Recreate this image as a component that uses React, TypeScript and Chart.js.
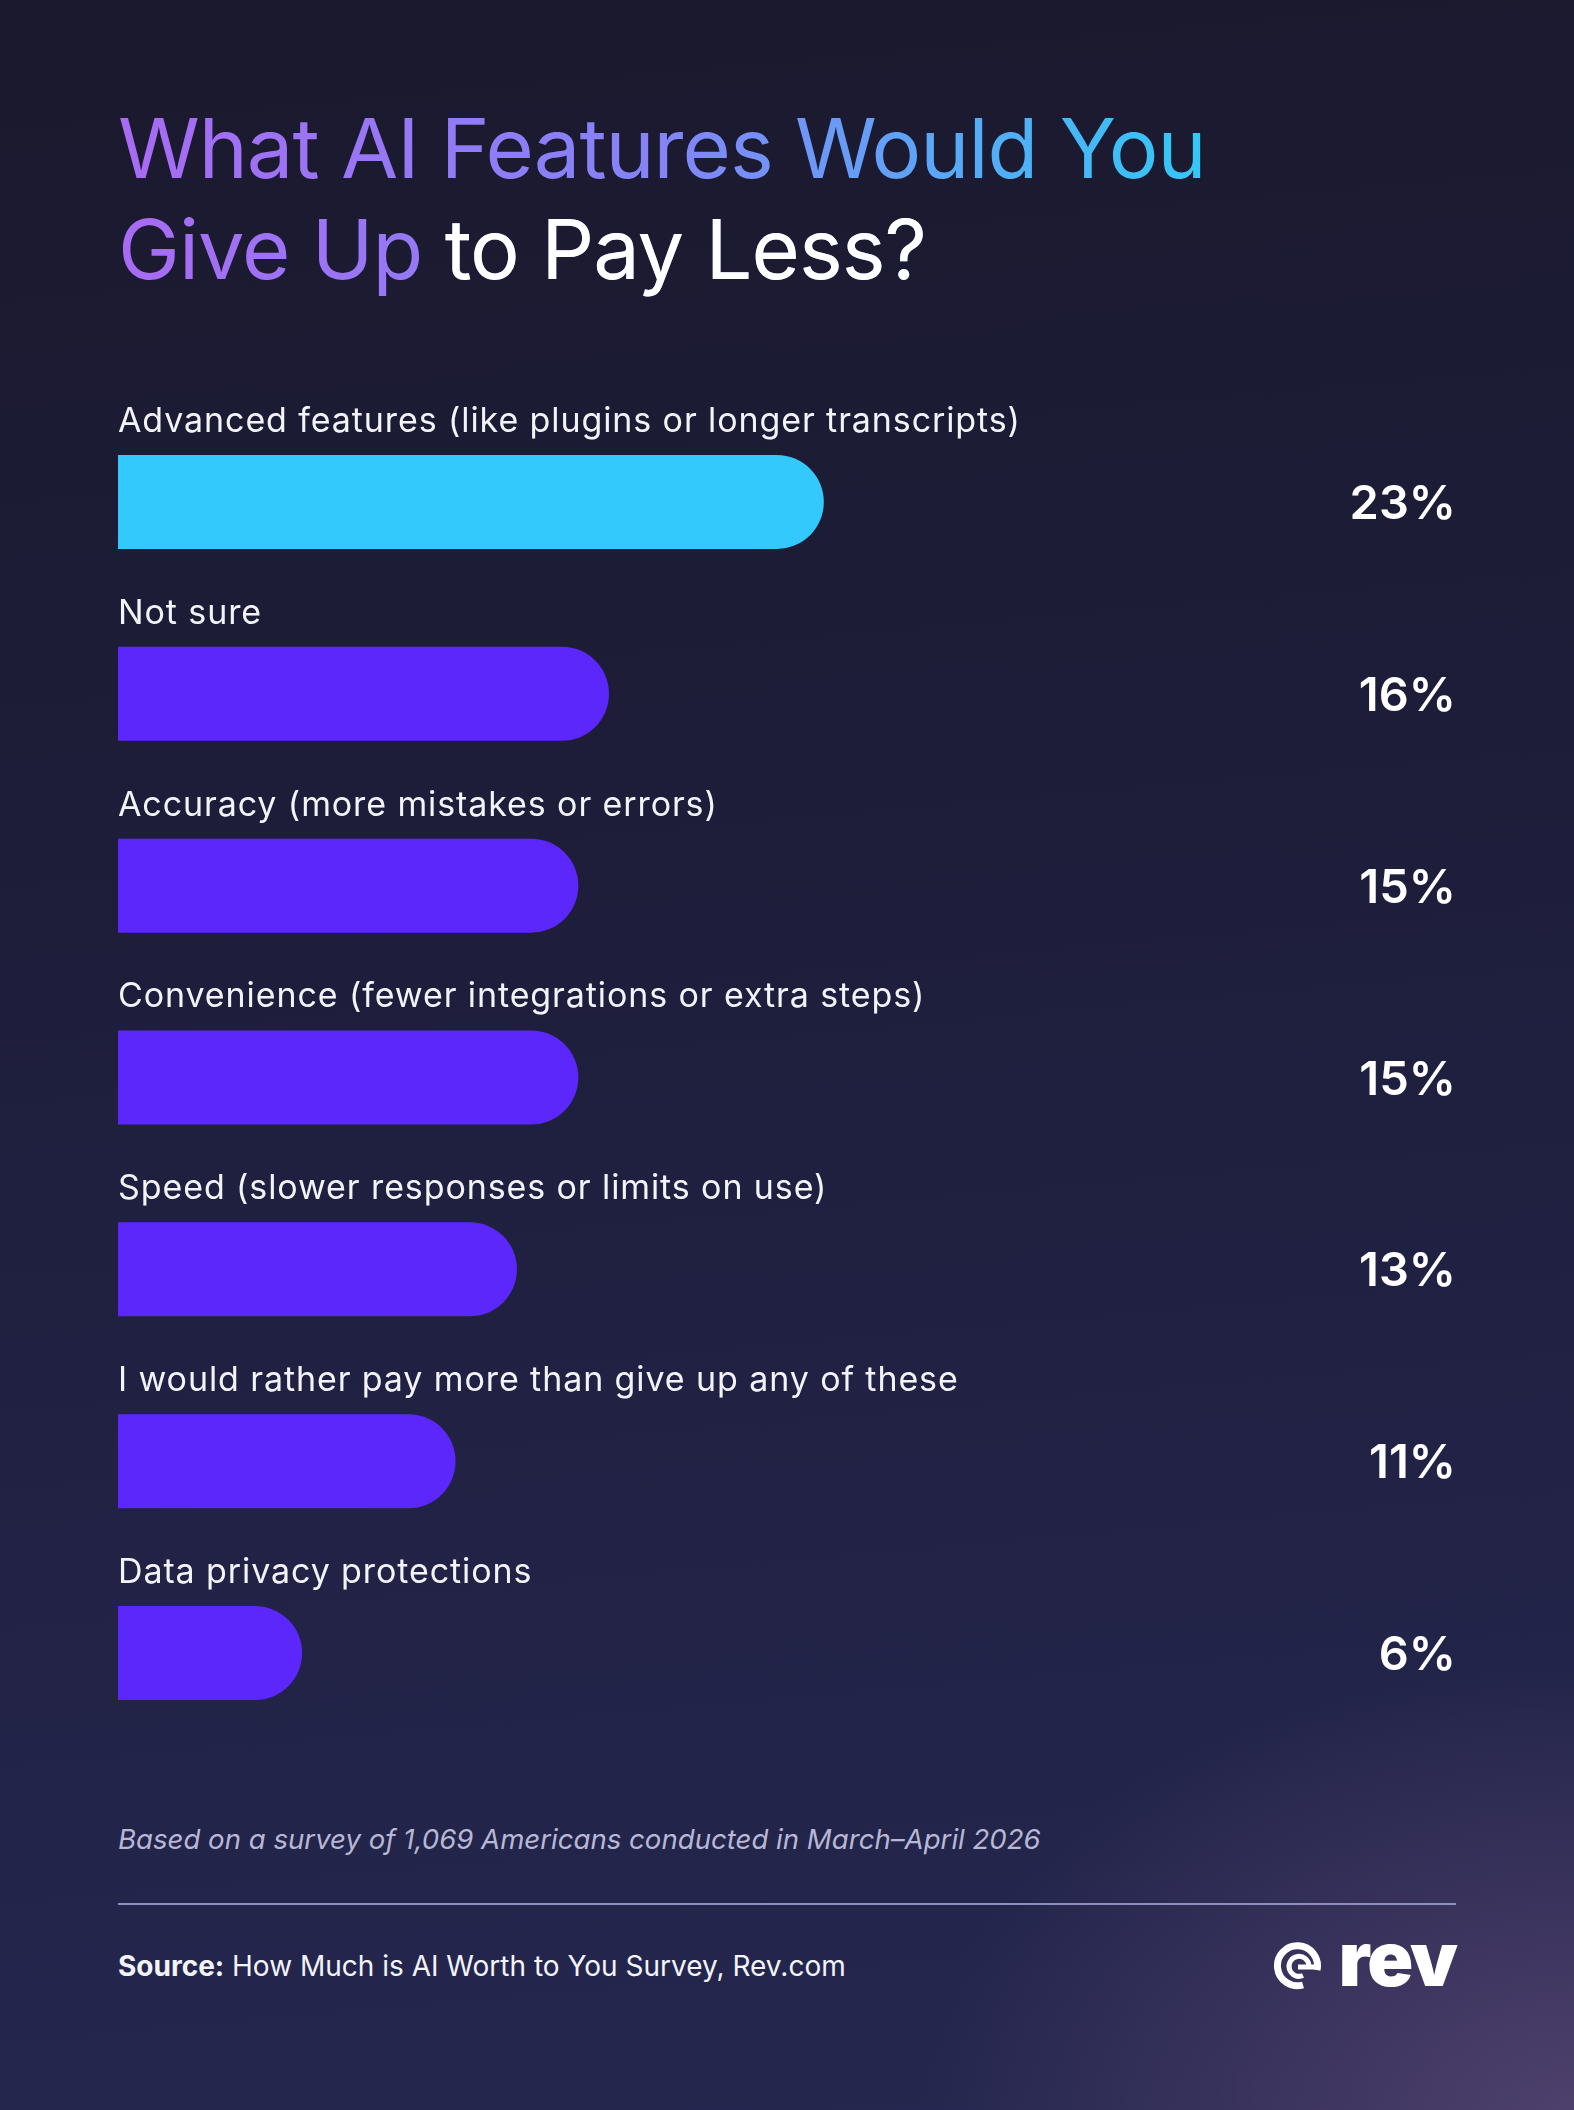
import React, { useEffect, useRef } from "react";
import { Chart, registerables } from "chart.js";

Chart.register(...registerables);

const categories = [
  "Advanced features (like plugins or longer transcripts)",
  "Not sure",
  "Accuracy (more mistakes or errors)",
  "Convenience (fewer integrations or extra steps)",
  "Speed (slower responses or limits on use)",
  "I would rather pay more than give up any of these",
  "Data privacy protections",
];
const values = [23, 16, 15, 15, 13, 11, 6];
const barColors = ["#33c9fd", "#5b27fb", "#5b27fb", "#5b27fb", "#5b27fb", "#5b27fb", "#5b27fb"];

const FONT = "Inter, 'Noto Sans', sans-serif";

const labelPlugin = {
  id: "rowLabels",
  afterDatasetsDraw(chart: any) {
    const { ctx, chartArea } = chart;
    const meta = chart.getDatasetMeta(0);
    ctx.save();
    meta.data.forEach((bar: any, i: number) => {
      const top = bar.y - bar.height / 2;
      ctx.fillStyle = "#f3f3fa";
      ctx.font = `400 34px ${FONT}`;
      (ctx as any).letterSpacing = "0.9px";
      ctx.textAlign = "left";
      ctx.textBaseline = "alphabetic";
      ctx.fillText(categories[i], bar.base, top - 23);
      (ctx as any).letterSpacing = "0px";
      ctx.font = `600 47px ${FONT}`;
      ctx.textAlign = "right";
      ctx.textBaseline = "middle";
      ctx.fillStyle = "#ffffff";
      ctx.fillText(values[i] + "%", chartArea.right, bar.y + 3);
    });
    ctx.restore();
  },
};

function BarChart() {
  const ref = useRef<HTMLCanvasElement | null>(null);
  useEffect(() => {
    if (!ref.current) return;
    const chart = new Chart(ref.current, {
      type: "bar",
      data: {
        labels: categories,
        datasets: [
          {
            data: values,
            backgroundColor: barColors,
            borderRadius: 47,
            borderSkipped: "start",
            categoryPercentage: 1,
            barPercentage: 0.49,
          },
        ],
      },
      options: {
        indexAxis: "y",
        animation: false,
        responsive: false,
        devicePixelRatio: 1,
        layout: { padding: { left: 118, right: 118, top: 26, bottom: 31 } },
        plugins: { legend: { display: false }, tooltip: { enabled: false } },
        scales: {
          x: { display: false, min: 0, max: 43.6 },
          y: { display: false },
        },
      },
      plugins: [labelPlugin],
    } as any);
    return () => chart.destroy();
  }, []);
  return (
    <canvas
      ref={ref}
      width={1574}
      height={1400}
      style={{ position: "absolute", left: 0, top: 380, width: 1574, height: 1400 }}
    />
  );
}

function Logo() {
  return (
    <svg
      width={52}
      height={52}
      viewBox="0 0 52 52"
      style={{ position: "absolute", left: 1273, top: 1940 }}
    >
      <path
        d="M44 30 A20 20 0 1 0 30 45"
        fill="none"
        stroke="#fff"
        strokeWidth={7}
        strokeLinecap="butt"
      />
      <path
        d="M36 26 A10 10 0 1 0 30 35.5"
        fill="none"
        stroke="#fff"
        strokeWidth={5}
      />
      <line x1={25} y1={27} x2={46} y2={27} stroke="#fff" strokeWidth={5} />
    </svg>
  );
}

export default function App() {
  useEffect(() => {
    document.body.style.margin = "0";
  }, []);
  return (
    <div
      style={{
        position: "absolute",
        left: 0,
        top: 0,
        width: 1574,
        height: 2110,
        overflow: "hidden",
        fontFamily: FONT,
        background:
          "radial-gradient(ellipse 650px 450px at 100% 100%, rgba(95,75,120,0.7) 0%, rgba(95,75,120,0) 100%), linear-gradient(175deg, #1a192d 0%, #1e1e3c 45%, #252750 100%)",
      }}
    >
      <div
        style={{
          position: "absolute",
          left: 118,
          top: 98,
          width: 1100,
          fontSize: 83,
          lineHeight: "101px",
          fontWeight: 400,
          letterSpacing: -1,
          backgroundImage: "linear-gradient(90deg, #a86bf3 0%, #8484f7 50%, #33c8f5 100%)",
          backgroundSize: "1086px 100%",
          backgroundRepeat: "no-repeat",
          WebkitBackgroundClip: "text",
          backgroundClip: "text",
          WebkitTextFillColor: "transparent",
          color: "transparent",
        }}
      >
        What AI Features Would You
        <br />
        Give Up <span style={{ WebkitTextFillColor: "#ffffff", color: "#fff" }}>to Pay Less?</span>
      </div>

      <BarChart />

      <div
        style={{
          position: "absolute",
          left: 118,
          top: 1825,
          fontSize: 27.6,
          lineHeight: "28px",
          fontStyle: "italic",
          color: "#b8b8d6",
          whiteSpace: "nowrap",
        }}
      >
        Based on a survey of 1,069 Americans conducted in March–April 2026
      </div>

      <div
        style={{
          position: "absolute",
          left: 118,
          top: 1903,
          width: 1338,
          height: 2,
          background: "#8d8ebf",
        }}
      />

      <div
        style={{
          position: "absolute",
          left: 118,
          top: 1952,
          fontSize: 28,
          lineHeight: "28px",
          color: "#f3f3fa",
          whiteSpace: "nowrap",
        }}
      >
        <b style={{ fontWeight: 700 }}>Source:</b> How Much is AI Worth to You Survey, Rev.com
      </div>

      <Logo />
      <div
        style={{
          position: "absolute",
          right: 118,
          top: 1920,
          fontSize: 76,
          lineHeight: "76px",
          fontWeight: 900,
          color: "#fff",
          letterSpacing: -2,
        }}
      >
        rev
      </div>
    </div>
  );
}
